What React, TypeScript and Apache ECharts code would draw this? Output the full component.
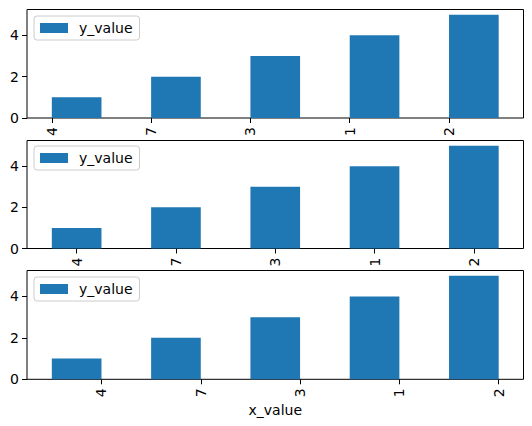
import React, { useEffect, useRef } from "react";
import * as echarts from "echarts";

const categories = ["4", "7", "3", "1", "2"];
const yValues = [1, 2, 3, 4, 5];
const yTicks = [0, 2, 4];
const seriesName = "y_value";
const xName = "x_value";
// tick offsets (in category units) for the three subplots
const tickOffsets = [-0.25, 0, 0.25];

const FONT = "DejaVu Sans";
const BLUE = "#1f77b4";

const grids = [
  { top: 9.5, height: 108.5 },
  { top: 140.5, height: 108 },
  { top: 270.5, height: 108.8 },
];
const legendTops = [16, 146, 277];

export default function App() {
  const ref = useRef<HTMLDivElement>(null);
  useEffect(() => {
    if (!ref.current) return;
    const chart = echarts.init(ref.current, null, { renderer: "svg" });
    const gridOpts = grids.map((g) => ({
      left: 27,
      right: 8.5,
      top: g.top,
      height: g.height,
      show: true,
      borderColor: "#000",
      borderWidth: 1,
      backgroundColor: "transparent",
    }));
    const xAxes: any[] = [];
    const yAxes: any[] = [];
    const series: any[] = [];
    const legends: any[] = [];
    grids.forEach((g, i) => {
      const off = tickOffsets[i];
      const tickVals = categories.map((_, k) => k + off);
      xAxes.push({
        type: "category",
        gridIndex: i,
        position: "bottom",
        data: categories,
        boundaryGap: true,
        axisLine: { show: false, onZero: false },
        axisTick: { show: false },
        axisLabel: { show: false },
        splitLine: { show: false },
      });
      xAxes.push({
        type: "value",
        gridIndex: i,
        position: "bottom",
        min: -0.5,
        max: 4.5,
        axisLine: { show: false, onZero: false },
        splitLine: { show: false },
        axisTick: {
          show: true,
          length: 5,
          customValues: tickVals,
          lineStyle: { color: "#000", width: 1 },
        },
        axisLabel: {
          show: true,
          customValues: tickVals,
          rotate: 90,
          margin: 9,
          fontFamily: FONT,
          fontSize: 14,
          color: "#000",
          formatter: (v: number) => categories[Math.round(v - off)] ?? "",
        },
        ...(i === 2
          ? {
              name: xName,
              nameLocation: "middle",
              nameGap: 24,
              nameTextStyle: { fontFamily: FONT, fontSize: 14, color: "#000" },
            }
          : {}),
      });
      yAxes.push({
        type: "value",
        gridIndex: i,
        position: "left",
        min: 0,
        max: 5.25,
        axisLine: { show: false, onZero: false },
        splitLine: { show: false },
        axisTick: {
          show: true,
          length: 5,
          customValues: yTicks,
          lineStyle: { color: "#000", width: 1 },
        },
        axisLabel: {
          show: true,
          customValues: yTicks,
          margin: 8,
          fontFamily: FONT,
          fontSize: 14,
          color: "#000",
        },
      });
      series.push({
        type: "bar",
        name: seriesName,
        xAxisIndex: i * 2,
        yAxisIndex: i,
        data: yValues,
        barWidth: "50%",
        itemStyle: { color: BLUE },
      });
      legends.push({
        show: true,
        left: 34,
        top: legendTops[i],
        orient: "vertical",
        data: [{ name: seriesName, icon: "rect" }],
        itemWidth: 28,
        itemHeight: 10,
        padding: [5, 7, 5, 6],
        backgroundColor: "rgba(255,255,255,0.8)",
        borderColor: "#cccccc",
        borderWidth: 1,
        borderRadius: 3,
        selectedMode: false,
        textStyle: {
          fontFamily: FONT,
          fontSize: 14,
          color: "#000",
          padding: [0, 0, 0, 6],
        },
      });
    });
    chart.setOption({
      animation: false,
      backgroundColor: "#fff",
      grid: gridOpts,
      xAxis: xAxes,
      yAxis: yAxes,
      legend: legends,
      series,
    });
    return () => chart.dispose();
  }, []);
  return (
    <div
      ref={ref}
      style={{ position: "fixed", left: 0, top: 0, width: 532, height: 426 }}
    />
  );
}
